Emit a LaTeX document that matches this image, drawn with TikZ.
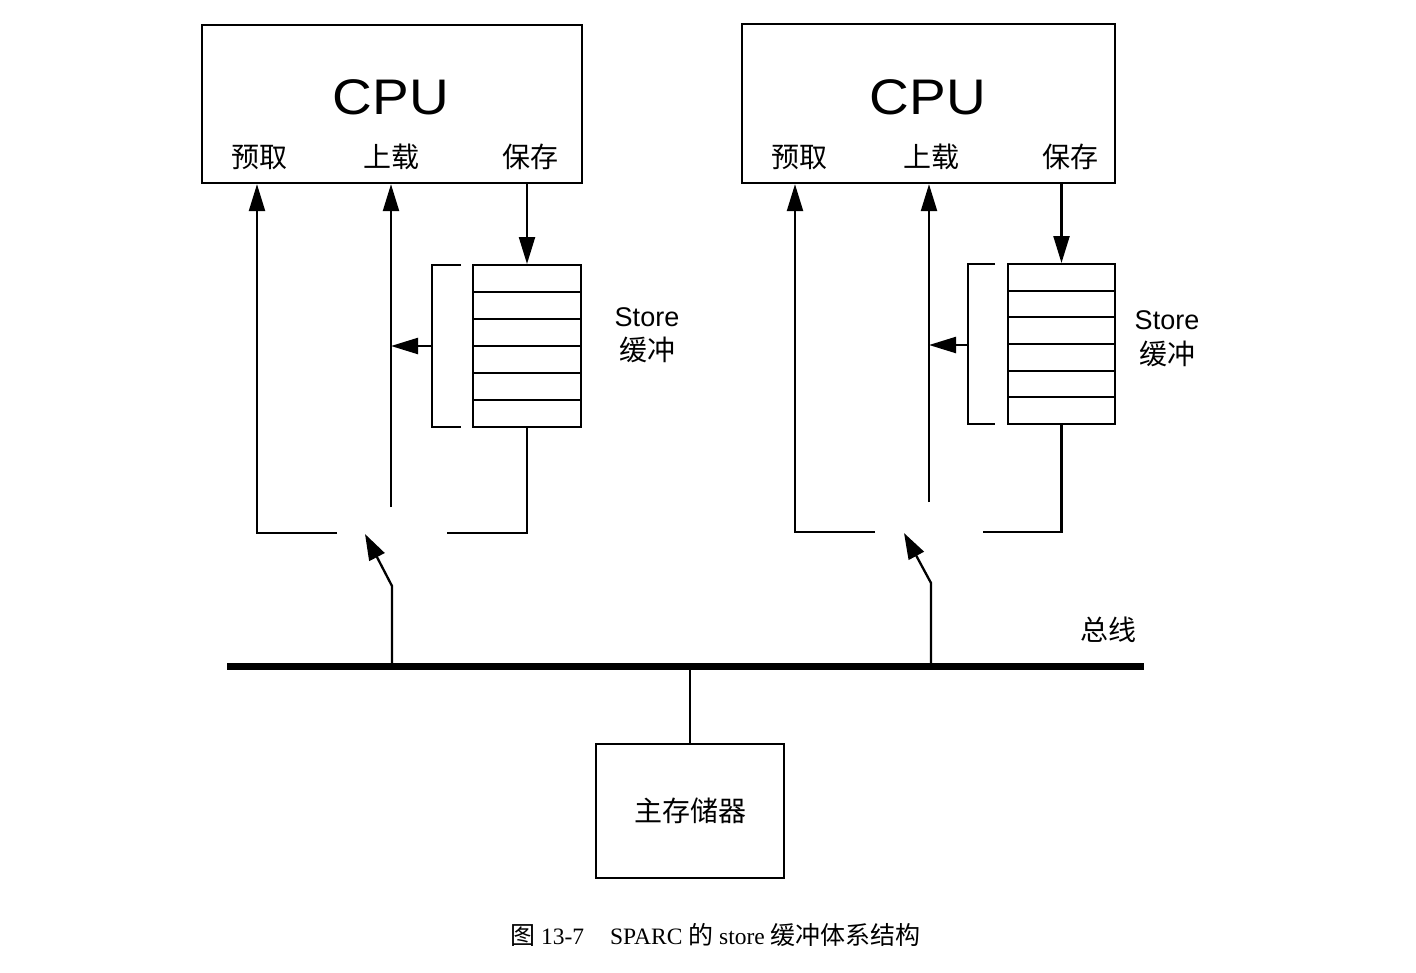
\documentclass[tikz,border=0pt]{standalone}
\usepackage{fontspec}
\setmainfont{Liberation Serif}
\setsansfont{Liberation Sans}
\newfontfamily\cjk{Noto Sans CJK SC}
\usetikzlibrary{arrows.meta}
\begin{document}
\begin{tikzpicture}[x=1pt,y=-1pt,
  ln/.style={line width=2.3pt},
  arr/.style={line width=2.3pt,-{Triangle[length=27pt,width=16pt]}},
  sarr/.style={line width=2.3pt,-{Triangle[length=26pt,width=17pt]}},
  box/.style={draw,line width=2.3pt,inner sep=0pt},
  cell/.style={draw,line width=2pt,inner sep=0pt},
  cputxt/.style={font=\sffamily\fontsize{50}{50}\selectfont,inner sep=0pt},
  lab/.style={font=\cjk\fontsize{28}{28}\selectfont,inner sep=0pt},
  sto/.style={font=\sffamily\fontsize{27}{27}\selectfont,inner sep=0pt},
  captext/.style={font=\fontsize{23.5}{24}\selectfont,inner sep=0pt}]
\useasboundingbox (0,0) rectangle (1416,972);

% ---------- left CPU ----------
\node[box,minimum width=380pt,minimum height=158pt] (cpuL) at (392,104) {};
\node[cputxt] (cpuLt) at (391,97) {\scalebox{1.1}[1]{CPU}};
\node[lab] (pfL) at (259,157) {预取};
\node[lab] (ldL) at (391,157) {上载};
\node[lab] (stL) at (530,157) {保存};
\foreach \i in {1,...,6}
  \node[cell,minimum width=108pt,minimum height=27pt] (bL\i) at (527,{265+27*(\i-0.5)}) {};
\draw[ln] (461,265) -- (432,265) -- (432,427) -- (461,427);
\coordinate (brL) at (432,346);
\coordinate (pfLb) at (257,533);
\coordinate (gapL1) at (337,533);
\coordinate (ldLb) at (391,507);
\coordinate (gapL2) at (447,533);
\coordinate (kneeL) at (392,586);
\coordinate (tipL) at (365,534);
\node[sto] (stoL) at (647,317) {Store};
\node[lab] (bufL) at (647,350) {缓冲};

% ---------- right CPU ----------
\node[box,minimum width=373pt,minimum height=159pt] (cpuR) at (928.5,103.5) {};
\node[cputxt] (cpuRt) at (928,97) {\scalebox{1.1}[1]{CPU}};
\node[lab] (pfR) at (799,157) {预取};
\node[lab] (ldR) at (931,157) {上载};
\node[lab] (stR) at (1070,157) {保存};
\foreach \i in {1,...,6}
  \node[cell,minimum width=107pt,minimum height=26.67pt] (bR\i) at (1061.5,{264+26.67*(\i-0.5)}) {};
\draw[ln] (995,264) -- (968,264) -- (968,424) -- (995,424);
\coordinate (brR) at (968,345);
\coordinate (pfRb) at (795,532);
\coordinate (gapR1) at (875,532);
\coordinate (ldRb) at (929,502);
\coordinate (gapR2) at (983,532);
\coordinate (kneeR) at (931,583);
\coordinate (tipR) at (904,533);
\node[sto] (stoR) at (1167,320) {Store};
\node[lab] (bufR) at (1167,354) {缓冲};

% ---------- bus and memory ----------
\coordinate (busA) at (227,666);
\coordinate (busB) at (1144,666);
\draw[line width=7pt] (busA) -- (busB);
\node[lab] (busT) at (1108,630) {总线};
\node[box,minimum width=188pt,minimum height=134pt,font=\cjk\fontsize{28}{28}\selectfont] (mem) at (690,811) {主存储器};
\draw[ln] (mem.north) -- (mem.north |- busA);

% ---------- connectors left ----------
\draw[arr] (gapL1) -- (pfLb) -- (pfLb |- cpuL.south);
\draw[arr] (ldLb) -- (ldLb |- cpuL.south);
\draw[arr] (brL) -- (brL -| ldLb);
\draw[arr] (cpuL.south -| bL1.north) -- (bL1.north);
\draw[ln] (bL6.south) -- (bL6.south |- gapL2) -- (gapL2);
\draw[sarr] (kneeL |- busA) -- (kneeL) -- (tipL);

% ---------- connectors right ----------
\draw[arr] (gapR1) -- (pfRb) -- (pfRb |- cpuR.south);
\draw[arr] (ldRb) -- (ldRb |- cpuR.south);
\draw[arr] (brR) -- (brR -| ldRb);
\draw[arr] (cpuR.south -| bR1.north) -- (bR1.north);
\draw[ln] (bR6.south) -- (bR6.south |- gapR2) -- (gapR2);
\draw[sarr] (kneeR |- busA) -- (kneeR) -- (tipR);

% ---------- caption ----------
\node[captext] (caption) at (715.5,935) {{\cjk\fontsize{25}{25}\selectfont 图} 13-7\hspace{26pt}SPARC {\cjk\fontsize{25}{25}\selectfont 的} store {\cjk\fontsize{25}{25}\selectfont 缓冲体系结构}};
\end{tikzpicture}
\end{document}
